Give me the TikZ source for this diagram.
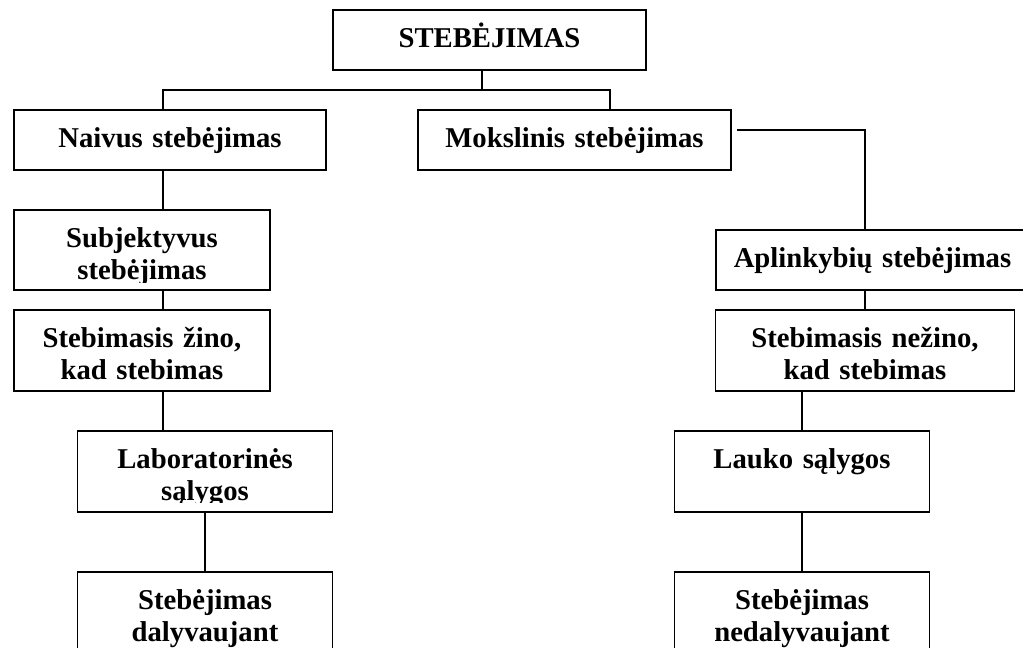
\documentclass[tikz,border=0pt]{standalone}
\usepackage{fontspec}
\setmainfont{Liberation Serif}
\usetikzlibrary{positioning,calc}

\begin{document}
\begin{tikzpicture}[x=0.5pt, y=-0.5pt,
  obs/.style={draw, line width=0.65pt, rectangle, inner sep=0pt, outer sep=0pt},
  lbl/.style={font=\fontsize{14.35}{16}\selectfont\bfseries, align=center,
    text width=170pt, anchor=base, inner sep=0pt},
  txt/.style 2 args={path picture={
    \clip ([yshift=#2]path picture bounding box.south west) rectangle (path picture bounding box.north east);
    \node[lbl] at ([yshift=-18.5pt]path picture bounding box.north) {#1};}},
  link/.style={line width=0.65pt}]
\useasboundingbox (0,0) rectangle (1023,648);
\clip (0,0) rectangle (1023,648);
% root
\node[obs, minimum width=156.5pt, minimum height=30pt, txt={STEBĖJIMAS}{0pt}] (top) at (489.5,40) {};
% left branch
\node[obs, minimum width=156pt, minimum height=30pt, txt={Naivus stebėjimas}{0pt}] (naiv) at (170,140) {};
\node[obs, minimum width=128pt, minimum height=40pt, txt={Subjektyvus\\stebėjimas}{4pt}] (subj) at (142,250) {};
\node[obs, minimum width=128pt, minimum height=40.5pt, txt={Stebimasis žino,\\kad stebimas}{0pt}] (zino) at (142,350.5) {};
\node[obs, minimum width=127.5pt, minimum height=40.5pt, txt={Laboratorinės\\sąlygos}{5pt}] (lab) at (205,471.5) {};
\node[obs, minimum width=127.5pt, minimum height=40.5pt, txt={Stebėjimas\\dalyvaujant}{0pt}] (dal) at (205,612.5) {};
% right branch
\node[obs, minimum width=156.5pt, minimum height=30pt, txt={Mokslinis stebėjimas}{0pt}] (mok) at (574.5,140) {};
\node[obs, minimum width=156.5pt, minimum height=30pt, txt={Aplinkybių stebėjimas}{0pt}] (apl) at (872.5,260) {};
\node[obs, minimum width=149.5pt, minimum height=40.5pt, txt={Stebimasis nežino,\\kad stebimas}{0pt}] (nez) at (865,350.5) {};
\node[obs, minimum width=127.5pt, minimum height=40.5pt, txt={Lauko sąlygos}{0pt}] (lauk) at (802,471.5) {};
\node[obs, minimum width=127.5pt, minimum height=40.5pt, txt={Stebėjimas\\nedalyvaujant}{0pt}] (ndal) at (802,612.5) {};
% bus under the root
\coordinate (busM) at (482,90);
\coordinate (busL) at (163,90);
\coordinate (busR) at (610,90);
\draw[link] (top.south -| busM) -- (busM);
\draw[link] (naiv.north -| busL) -- (busL) -- (busR) -- (mok.north -| busR);
% left chain
\draw[link] (naiv.south -| busL) -- (subj.north -| busL);
\draw[link] (subj.south -| busL) -- (zino.north -| busL);
\draw[link] (zino.south -| busL) -- (lab.north -| busL);
\draw[link] (lab.south) -- (dal.north);
% right chain
\coordinate (mokR) at ($(mok.east)+(6,-10)$);
\draw[link] (mokR) -| (apl.north -| nez.north);
\draw[link] (apl.south -| nez.north) -- (nez.north);
\draw[link] (nez.south -| lauk.north) -- (lauk.north);
\draw[link] (lauk.south) -- (ndal.north);
\end{tikzpicture}
\end{document}
